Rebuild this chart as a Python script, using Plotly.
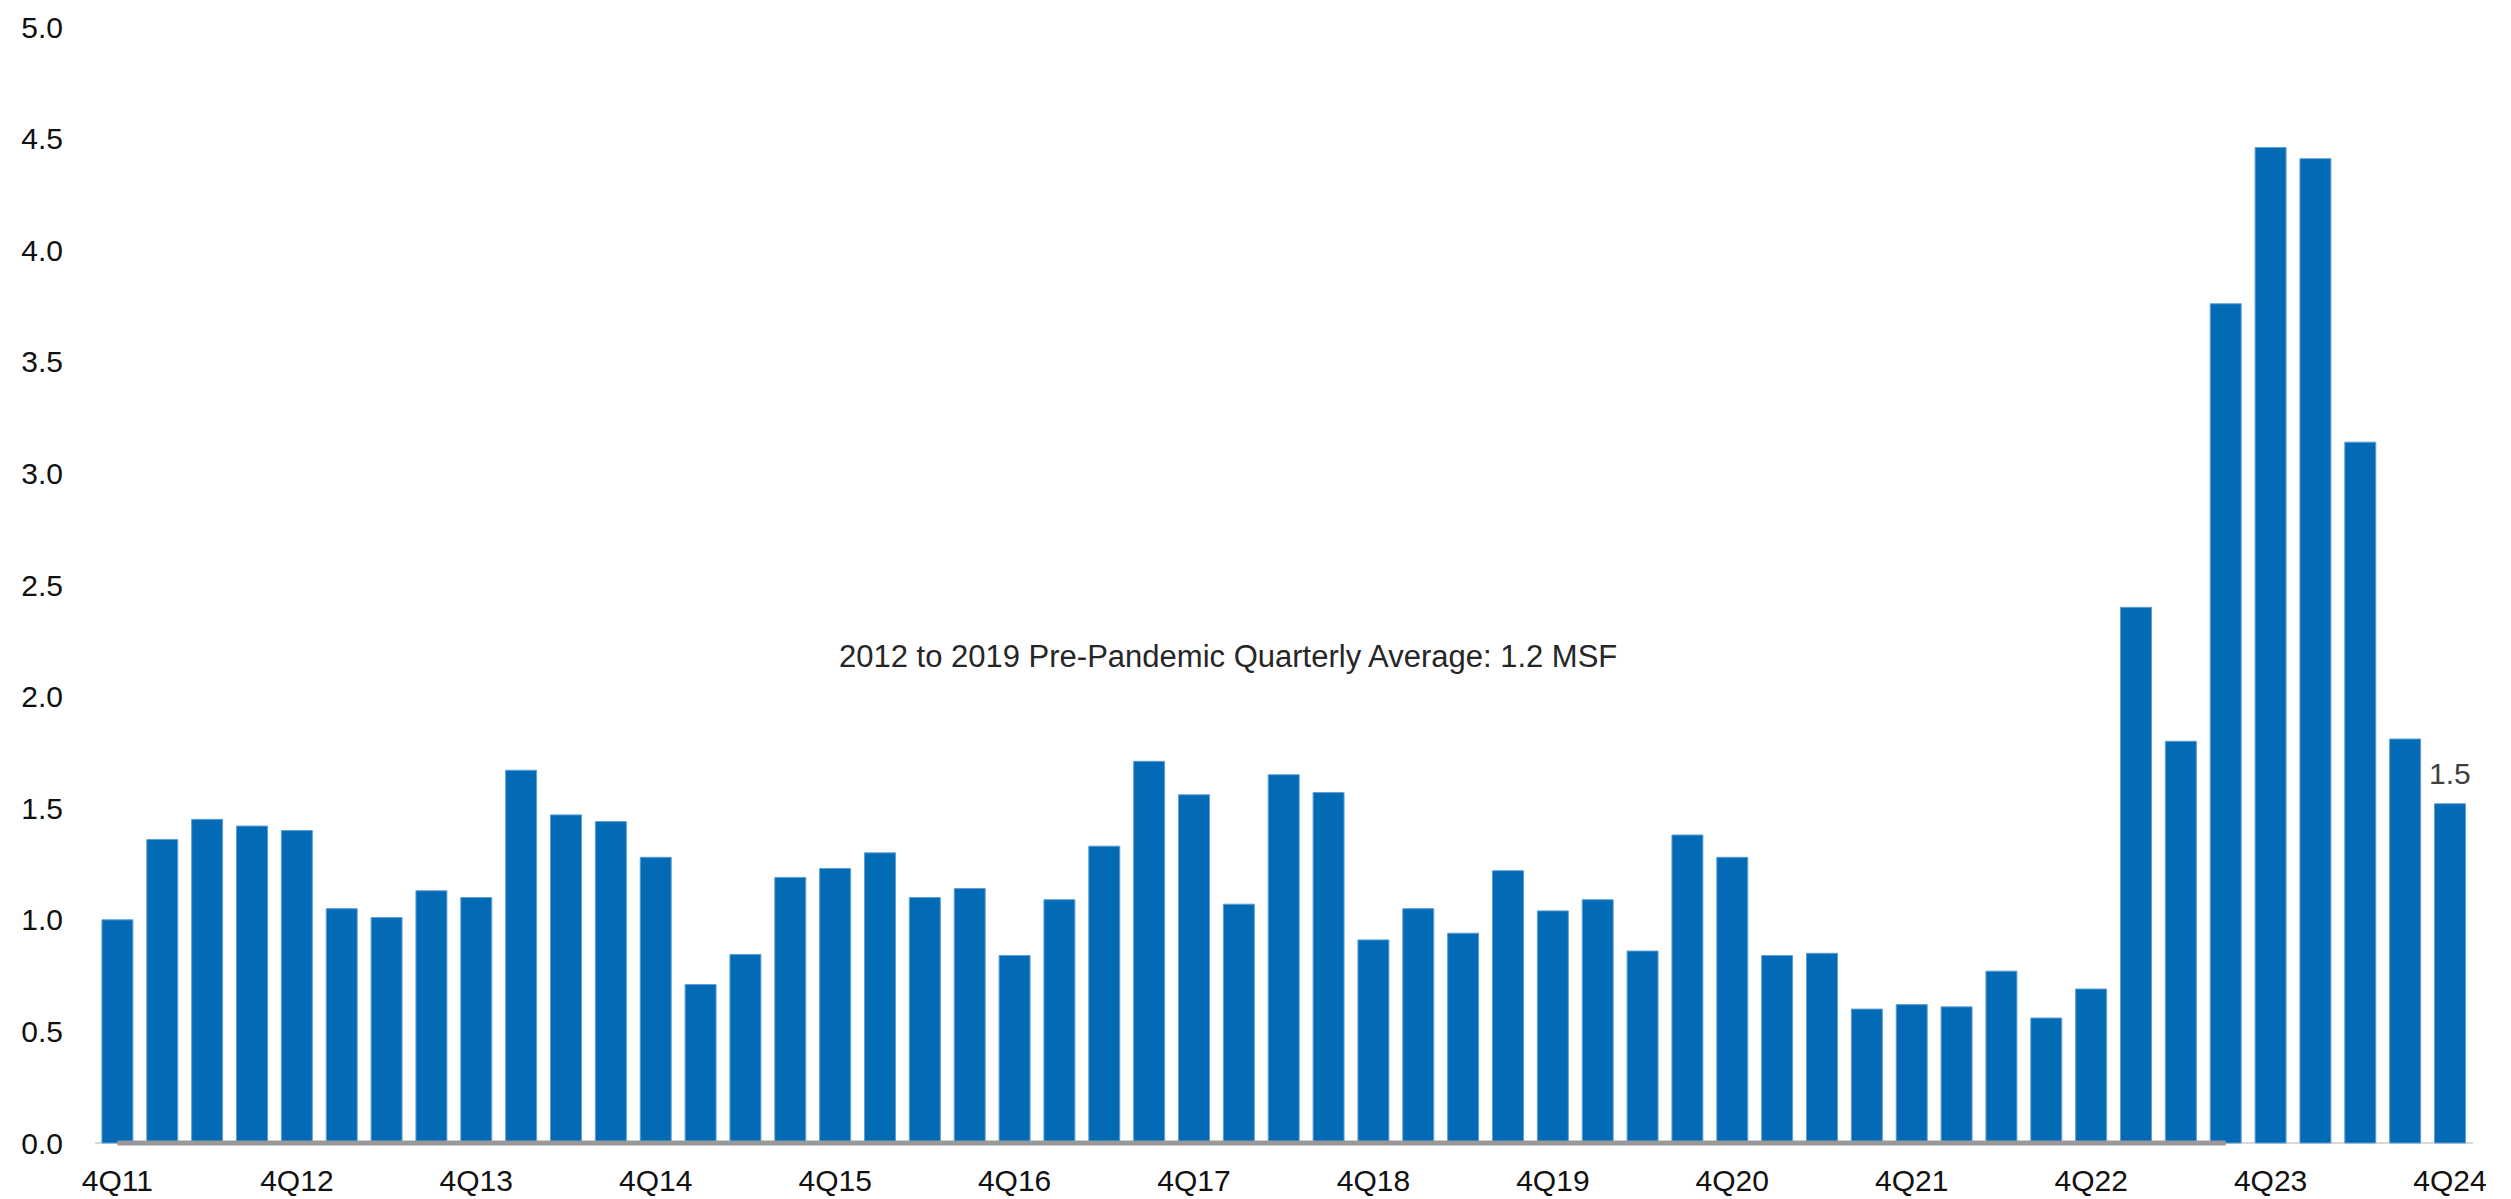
import plotly.graph_objects as go

## Quarterly data (MSF)
quarters = ['4Q11', '1Q12', '2Q12', '3Q12', '4Q12', '1Q13', '2Q13', '3Q13', '4Q13',
            '1Q14', '2Q14', '3Q14', '4Q14', '1Q15', '2Q15', '3Q15', '4Q15',
            '1Q16', '2Q16', '3Q16', '4Q16', '1Q17', '2Q17', '3Q17', '4Q17',
            '1Q18', '2Q18', '3Q18', '4Q18', '1Q19', '2Q19', '3Q19', '4Q19',
            '1Q20', '2Q20', '3Q20', '4Q20', '1Q21', '2Q21', '3Q21', '4Q21',
            '1Q22', '2Q22', '3Q22', '4Q22', '1Q23', '2Q23', '3Q23', '4Q23',
            '1Q24', '2Q24', '3Q24', '4Q24']

values = [1.00, 1.36, 1.45, 1.42, 1.40, 1.05, 1.01, 1.13, 1.10,
          1.67, 1.47, 1.44, 1.28, 0.71, 0.845, 1.19, 1.23,
          1.30, 1.10, 1.14, 0.84, 1.09, 1.33, 1.71, 1.56,
          1.07, 1.65, 1.57, 0.91, 1.05, 0.94, 1.22, 1.04,
          1.09, 0.86, 1.38, 1.28, 0.84, 0.85, 0.60, 0.62,
          0.61, 0.77, 0.56, 0.69, 2.40, 1.80, 3.76, 4.46,
          4.41, 3.14, 1.81, 1.52]

tick_labels = ['4Q11', '4Q12', '4Q13', '4Q14', '4Q15', '4Q16', '4Q17',
               '4Q18', '4Q19', '4Q20', '4Q21', '4Q22', '4Q23', '4Q24']

y_ticks = [0.0, 0.5, 1.0, 1.5, 2.0, 2.5, 3.0, 3.5, 4.0, 4.5, 5.0]

# grey baseline segment drawn at zero
base_x = ['4Q11', '3Q23']
base_y = [0, 0]

avg_text = '2012 to 2019 Pre-Pandemic Quarterly Average: 1.2 MSF'
last_label = '1.5'

FONT = 'Arial, Liberation Sans, sans-serif'

fig = go.Figure()
fig.add_trace(go.Bar(x=quarters, y=values, marker=dict(color='#036bb5', line=dict(color='#5d9fd3', width=1)),
                     showlegend=False))
fig.add_trace(go.Scatter(x=base_x, y=base_y, mode='lines', line=dict(color='#999999', width=5),
                         showlegend=False, cliponaxis=False))

fig.add_annotation(x=0.4765, xref='paper', y=2.18, yref='y', text=avg_text, showarrow=False,
                   font=dict(family=FONT, size=31, color='#262626'))
fig.add_annotation(x=quarters[-1], y=values[-1], text=last_label, showarrow=False, yanchor='bottom',
                   yshift=12, font=dict(family=FONT, size=30, color='#404040'))

# page body adds an 8px offset, so the figure is 8px smaller than the window
fig.update_layout(width=2503, height=1191, plot_bgcolor='white', paper_bgcolor='white',
                  margin=dict(l=87, r=38, t=19, b=53), bargap=0.31,
                  font=dict(family=FONT, size=30, color='#111111'),
                  xaxis=dict(type='category', tickmode='array', tickvals=tick_labels, ticktext=tick_labels,
                             showgrid=False, showline=False, automargin=False,
                             ticks='', ticklabelstandoff=14, tickangle=0),
                  yaxis=dict(range=[-0.0134, 5], tickvals=y_ticks, ticktext=[f'{v:.1f}' for v in y_ticks],
                             showgrid=False, zeroline=True, zerolinecolor='#d9d9d9', zerolinewidth=2,
                             showline=False, ticks='', automargin=False, ticklabelstandoff=31))

fig.write_html('out.html')
